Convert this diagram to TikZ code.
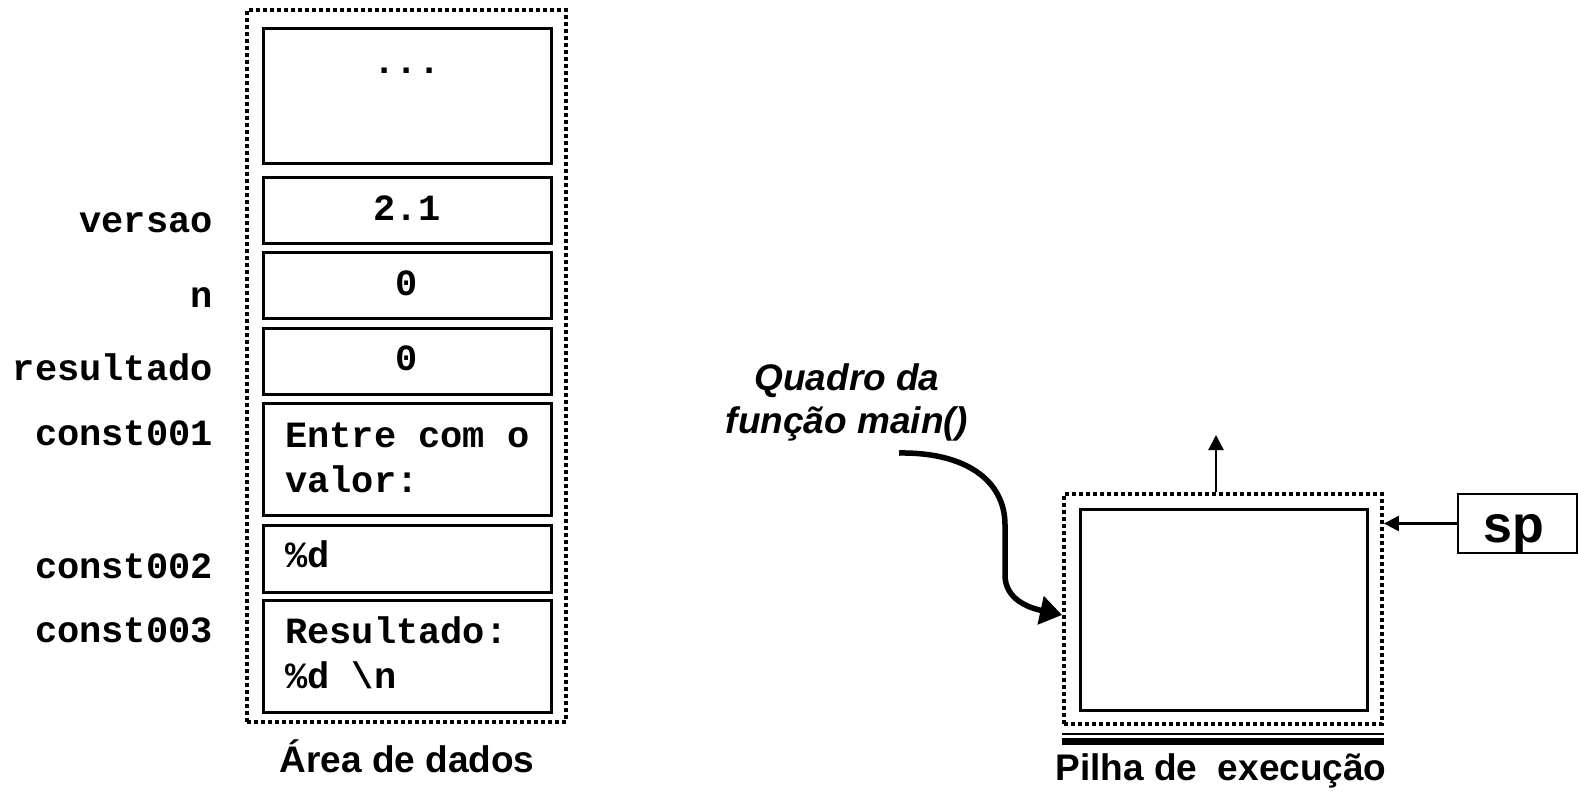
\documentclass[tikz,border=0pt]{standalone}
\usepackage{fontspec}
\setmainfont{Liberation Sans}
\newfontfamily\monof{Liberation Mono}
\usetikzlibrary{arrows.meta}
\begin{document}
\begin{tikzpicture}[x=1pt,y=-1pt,
  cell/.style={draw, line width=3pt, minimum width=288pt, inner sep=0pt},
  mono/.style={font=\monof\bfseries\fontsize{37}{44}\selectfont, inner sep=0pt},
  lbl/.style={mono, anchor=base east},
  val/.style={mono, anchor=base},
  txt/.style={mono, anchor=base west},
  dotbox/.style={draw, line width=3.8pt, dash pattern=on 3.8pt off 3.2pt, inner sep=0pt},
  capt/.style={font=\bfseries\fontsize{37}{44}\selectfont, inner sep=0pt, anchor=base},
  qtxt/.style={font=\bfseries\itshape\fontsize{37}{44}\selectfont, inner sep=0pt, anchor=base}
]
\useasboundingbox (0,0) rectangle (1578,792);

% data area
\node[dotbox, minimum width=319pt, minimum height=712pt] (area) at (406.5,366) {};
\node[cell, minimum height=134pt] (b1) at (407,96) {};
\node[cell, minimum height=66pt] (b2) at (407,210) {};
\node[cell, minimum height=66pt] (b3) at (407,285) {};
\node[cell, minimum height=66pt] (b4) at (407,361) {};
\node[cell, minimum height=112pt] (b5) at (407,459) {};
\node[cell, minimum height=67pt] (b6) at (407,558.5) {};
\node[cell, minimum height=112pt] (b7) at (407,656) {};

\node[val] (t1) at (407,74) {...};
\node[val] (t2) at (407,220) {2.1};
\node[val] (t3) at (407,295) {0};
\node[val] (t4) at (407,370) {0};
\node[txt] (t5a) at (285,447) {Entre com o};
\node[txt] (t5b) at (285,492) {valor:};
\node[txt] (t6) at (285,567) {\%d};
\node[txt] (t7a) at (285,643) {Resultado:};
\node[txt] (t7b) at (285,688) {\%d \textbackslash n};

\node[lbl] (l1) at (213,232) {versao};
\node[lbl] (l2) at (213,307) {n};
\node[lbl] (l3) at (213,380) {resultado};
\node[lbl] (l4) at (213,445) {const001};
\node[lbl] (l5) at (213,578) {const002};
\node[lbl] (l6) at (213,642) {const003};

\node[capt] (cap1) at (407,772) {Área de dados};

% stack
\node[dotbox, minimum width=318pt, minimum height=230pt] (stk) at (1223,609) {};
\node[draw, line width=3pt, minimum width=287pt, minimum height=201pt, inner sep=0pt] (frame) at (1223.5,609.5) {};
\draw[line width=1.6pt] ([yshift=-8pt]stk.south west) -- ([yshift=-8pt]stk.south east);
\draw[line width=6.5pt] ([yshift=-15.5pt]stk.south west) -- ([yshift=-15.5pt]stk.south east);
\node[capt] (cap2) at (1221,780) {Pilha de~ execução};

% up arrow
\coordinate (uptip) at (1216,435);
\draw[line width=2.3pt, -{Triangle[length=15pt,width=15pt]}] ([xshift=-7pt]stk.north) -- (uptip);

% sp
\node[draw, line width=2.7pt, minimum width=119pt, minimum height=59pt, inner sep=0pt] (sp) at (1517.5,523.5) {};
\node[font=\bfseries\fontsize{52}{60}\selectfont, inner sep=0pt, anchor=base west] (sptxt) at (1483,542) {sp};
\draw[line width=2.3pt, -{Triangle[length=15pt,width=15pt]}] (sp.west) -- (sp.west -| stk.east);

% frame label and curved arrow
\node[qtxt] (q1) at (847,390) {Quadro da};
\node[qtxt] (q2) at (847,433) {função main()};
\coordinate (qs) at (899,453);
\draw[line width=5.5pt, -{Triangle[length=22pt,width=28pt]}]
  (qs) .. controls (965,452) and (1005,480) .. (1005,525)
  -- (1005,575) .. controls (1005,600) and (1030,608) .. ([yshift=-6pt]stk.west);
\end{tikzpicture}
\end{document}
